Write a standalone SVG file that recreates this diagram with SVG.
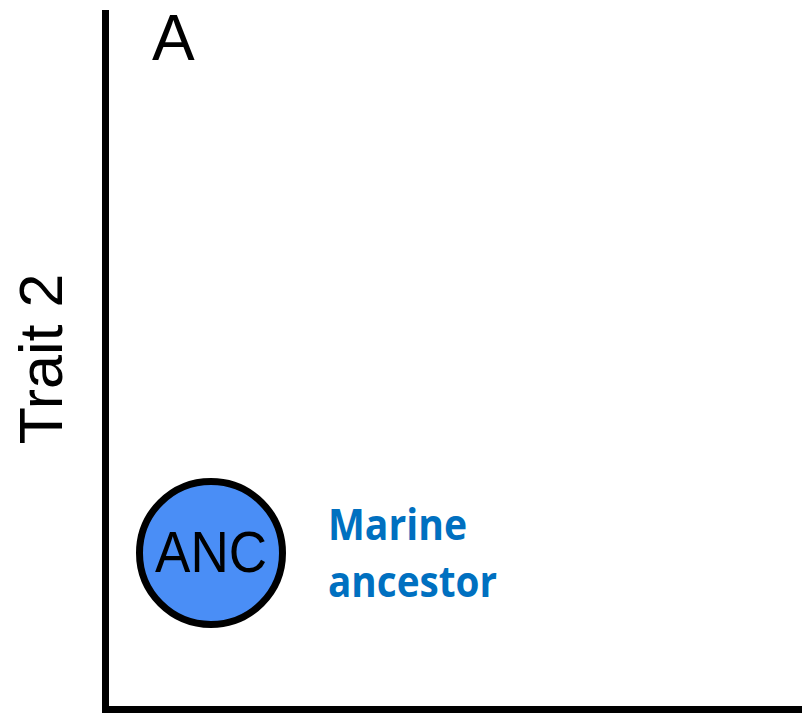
<svg xmlns="http://www.w3.org/2000/svg" width="802" height="713" viewBox="0 0 802 713">
<style>
.axis{stroke:#000;stroke-width:7;fill:none}
.lbl{font-family:"Liberation Sans",Arial,sans-serif;fill:#000}
.blue{font-family:"Open Sans","Liberation Sans",sans-serif;font-weight:bold;fill:#0070c0}
</style>
<rect width="802" height="713" fill="#fff"/>
<g id="axes">
<line class="axis" x1="105.5" y1="10" x2="105.5" y2="709.5"/>
<line class="axis" x1="102" y1="709.5" x2="802" y2="709.5"/>
</g>
<text class="lbl" x="152" y="60" font-size="64">A</text>
<text class="lbl" font-size="61" text-anchor="middle" transform="translate(62,359) rotate(-90)">Trait 2</text>
<g id="anc">
<circle cx="211" cy="553" r="71.5" fill="#4a8ef6" stroke="#000" stroke-width="7"/>
<text class="lbl" x="211" y="572" font-size="57" text-anchor="middle" textLength="112" lengthAdjust="spacingAndGlyphs">ANC</text>
</g>
<g id="label">
<text class="blue" x="328" y="540" font-size="43" textLength="139" lengthAdjust="spacingAndGlyphs">Marine</text>
<text class="blue" x="328" y="597" font-size="43" textLength="169" lengthAdjust="spacingAndGlyphs">ancestor</text>
</g>
</svg>
